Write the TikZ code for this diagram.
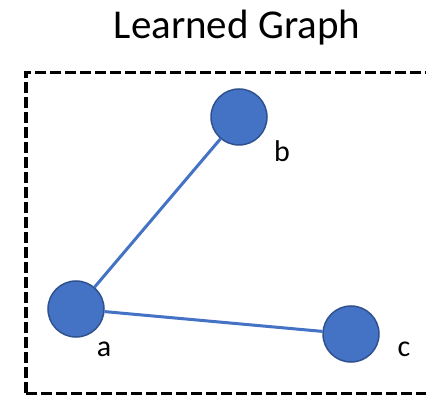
\documentclass[tikz,border=0pt]{standalone}
\usepackage{fontspec}
\setmainfont{Carlito}
\definecolor{nodeblue}{HTML}{4472C4}
\definecolor{nodeedge}{HTML}{2F528F}
\begin{document}
\begin{tikzpicture}[x=1pt,y=-1pt,
  gnode/.style={circle,fill=nodeblue,draw=nodeedge,line width=1.5pt,minimum size=56pt,inner sep=0pt},
  gedge/.style={draw=nodeblue,line width=3pt},
  frame/.style={line width=3.6pt,dash pattern=on 11pt off 4pt},
  glabel/.style={font=\fontsize{30}{36}\selectfont,anchor=base,inner sep=0pt}]
\useasboundingbox (0,0) rectangle (426,395);
\node[font=\fontsize{41}{48}\selectfont,anchor=base,inner sep=0pt] (title) at (237,39) {Learned Graph};
\draw[frame] (26,393.5) -- (26,72.5) -- (427,72.5);
\draw[frame] (26,393.5) -- (427,393.5);
\node[gnode] (a) at (76,309) {};
\node[gnode] (b) at (239,117) {};
\node[gnode] (c) at (351,334) {};
\draw[gedge] (a) -- (b);
\draw[gedge] (a) -- (c);
\node[glabel] (la) at (104,357) {a};
\node[glabel] (lb) at (282,162) {b};
\node[glabel] (lc) at (404,357) {c};
\end{tikzpicture}
\end{document}
